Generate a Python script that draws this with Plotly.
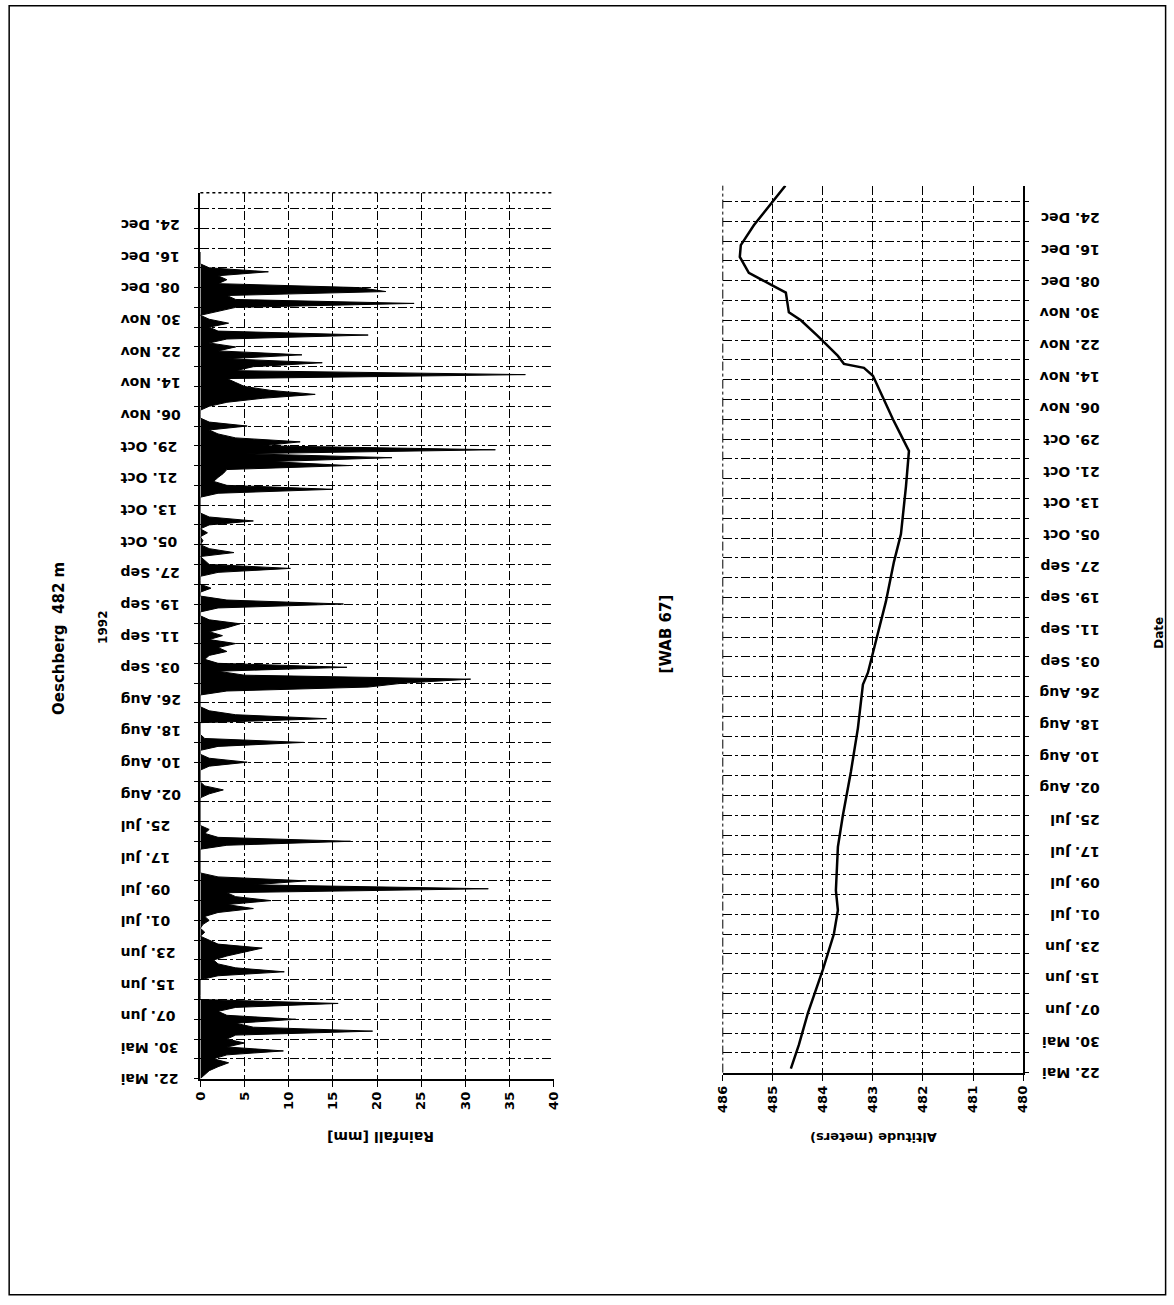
import pandas as pd
import plotly.graph_objects as go

# ---------------- data ----------------
rain_start = "1992-05-22"
rainfall_mm = [
    0, 0.5, 1, 2, 3.2, 1.5, 3, 9.4, 3, 5,
    3, 4, 19.5, 6, 4, 10.8, 3, 2, 4, 15.6,
    0, 0, 0, 0, 0, 0, 2, 9.5, 4, 2,
    1.5, 3, 5, 7, 2, 1, 0, 0.5, 0, 0.3,
    1, 0.5, 2, 6, 3, 8, 4, 3, 32.6, 6,
    12, 2, 0, 0, 0, 0, 0, 0, 0, 3,
    17, 2, 0.5, 1, 0, 0, 0, 0, 0, 0,
    0, 0, 1, 2.6, 0.5, 0, 0, 0, 0, 1,
    5.3, 1, 0, 0, 2, 11.7, 0.5, 0, 0, 0,
    0, 14.3, 4, 1, 0, 0, 0, 0, 3, 19,
    23, 30.6, 5, 2, 16.6, 2, 0.5, 1, 3, 2,
    4, 1, 2.5, 1, 3, 4.5, 1, 0, 0, 2,
    16.2, 3, 0, 0, 1.2, 0, 0, 0, 2, 10.2,
    1, 0.5, 0, 3.8, 1, 0, 0.3, 0, 0.8, 0,
    1, 6, 1, 0, 0, 0, 0, 0, 2, 15,
    3, 1.5, 2, 2.6, 3, 16.8, 8, 21.7, 5, 33.4,
    7, 11.3, 4, 2, 1, 5.3, 1, 0, 0, 0,
    1, 3, 7, 13, 8, 5, 4, 3, 36.8, 4,
    6, 13.8, 3, 11.5, 2, 4, 1, 3, 19, 2,
    1, 3.2, 1, 0, 2, 4, 24.2, 4, 3, 21,
    18, 2, 3, 2, 7.7, 1, 0, 0, 0, 0,
]

level_dates = [
    "1992-05-23", "1992-05-29", "1992-06-06", "1992-06-17", "1992-06-26",
    "1992-07-02", "1992-07-07", "1992-07-18", "1992-07-26", "1992-08-06",
    "1992-08-17", "1992-08-28", "1992-08-31", "1992-09-06", "1992-09-18",
    "1992-09-28", "1992-10-05", "1992-10-17", "1992-10-26", "1992-10-30",
    "1992-11-03", "1992-11-14", "1992-11-16", "1992-11-17", "1992-11-19",
    "1992-11-24", "1992-11-28", "1992-11-30", "1992-12-05", "1992-12-07",
    "1992-12-10", "1992-12-14", "1992-12-17", "1992-12-22", "1992-12-29",
    "1993-01-01",
]
level_m = [
    484.64, 484.48, 484.30, 484.00, 483.78,
    483.70, 483.74, 483.70, 483.60, 483.44,
    483.30, 483.20, 483.10, 482.98, 482.74,
    482.58, 482.44, 482.34, 482.28, 482.44,
    482.60, 483.00, 483.18, 483.58, 483.70,
    484.10, 484.44, 484.68, 484.74, 485.04,
    485.48, 485.66, 485.64, 485.38, 484.94,
    484.75,
]

date_tick_vals = [
    "1992-05-22", "1992-05-30", "1992-06-07", "1992-06-15", "1992-06-23",
    "1992-07-01", "1992-07-09", "1992-07-17", "1992-07-25", "1992-08-02",
    "1992-08-10", "1992-08-18", "1992-08-26", "1992-09-03", "1992-09-11",
    "1992-09-19", "1992-09-27", "1992-10-05", "1992-10-13", "1992-10-21",
    "1992-10-29", "1992-11-06", "1992-11-14", "1992-11-22", "1992-11-30",
    "1992-12-08", "1992-12-16", "1992-12-24",
]
date_tick_text = [
    "22. Mai", "30. Mai", "07. Jun", "15. Jun", "23. Jun",
    "01. Jul", "09. Jul", "17. Jul", "25. Jul", "02. Aug",
    "10. Aug", "18. Aug", "26. Aug", "03. Sep", "11. Sep",
    "19. Sep", "27. Sep", "05. Oct", "13. Oct", "21. Oct",
    "29. Oct", "06. Nov", "14. Nov", "22. Nov", "30. Nov",
    "08. Dec", "16. Dec", "24. Dec",
]
rain_ticks = [0, 5, 10, 15, 20, 25, 30, 35, 40]
alt_ticks = [486, 485, 484, 483, 482, 481, 480]

# ---------------- figure ----------------
W, H = 1174, 1305
FONT = "DejaVu Sans, Liberation Sans, Arial, sans-serif"
rain_dates = pd.date_range(rain_start, periods=len(rainfall_mm), freq="D")

fig = go.Figure()
fig.add_trace(go.Scatter(
    x=rainfall_mm, y=rain_dates, mode="lines", fill="tozerox",
    line=dict(color="black", width=1), fillcolor="black",
    xaxis="x", yaxis="y", showlegend=False))
fig.add_trace(go.Scatter(
    x=level_m, y=level_dates, mode="lines",
    line=dict(color="black", width=2.5),
    xaxis="x2", yaxis="y2", showlegend=False, cliponaxis=False))

# the photographed page shows the figure slightly scaled and offset
SX, OX = 0.9864, 7.8
SY, OY = 0.9932, -0.7


def px_x(p):
    return ((p - OX) / SX) / W


def px_y(p):
    return 1 - ((p - OY) / SY) / H


DAY = 86400000
grid_common = dict(gridcolor="black", gridwidth=1, griddash="dashdot")
xtickfont = dict(family=FONT, size=13, color="black", weight="bold")
ytickfont = dict(family=FONT, size=14, color="black", weight="bold")

fig.update_layout(
    width=W, height=H,
    margin=dict(l=0, r=0, t=0, b=0),
    paper_bgcolor="white", plot_bgcolor="white",
    font=dict(family=FONT, color="black"),
    xaxis=dict(
        domain=[px_x(200), px_x(553)], anchor="y",
        range=[0, 40], tickvals=rain_ticks, tickangle=-90,
        showgrid=True, **grid_common, zeroline=False,
        showline=True, linecolor="black", linewidth=2,
        ticks="outside", ticklen=6, tickcolor="black", tickfont=xtickfont,
    ),
    yaxis=dict(
        domain=[px_y(1078), px_y(192)], anchor="x", type="date",
        range=["1992-05-22", "1993-01-01"],
        tickmode="array", tickvals=date_tick_vals, ticktext=date_tick_text,
        tickangle=180, showgrid=False, zeroline=False,
        showline=True, linecolor="black", linewidth=2,
        ticks="", tickfont=ytickfont, ticklabelstandoff=75, ticklabelshift=5,
        minor=dict(tick0="1992-05-22", dtick=5 * DAY, showgrid=True,
                   ticks="outside", ticklen=4, tickcolor="black", **grid_common),
    ),
    xaxis2=dict(
        domain=[px_x(722), px_x(1022)], anchor="y2",
        range=[486, 480], tickvals=alt_ticks, tickangle=-90,
        showgrid=True, **grid_common, zeroline=False,
        showline=True, linecolor="black", linewidth=2,
        ticks="outside", ticklen=6, tickcolor="black", tickfont=xtickfont,
    ),
    yaxis2=dict(
        domain=[px_y(1072), px_y(185)], anchor="x2", type="date", side="right",
        range=["1992-05-22", "1993-01-01"],
        tickmode="array", tickvals=date_tick_vals, ticktext=date_tick_text,
        tickangle=180, showgrid=False, zeroline=False,
        showline=True, linecolor="black", linewidth=2,
        ticks="", tickfont=ytickfont, ticklabelstandoff=72, ticklabelshift=5,
        minor=dict(tick0="1992-05-22", dtick=5 * DAY, showgrid=True,
                   ticks="outside", ticklen=4, tickcolor="black", **grid_common),
    ),
)

# dotted top border of rainfall panel, dashed left border of level panel, page frame
fig.add_shape(type="line", xref="x domain", yref="y domain", x0=0, x1=1, y0=1, y1=1,
              line=dict(color="black", width=1.5, dash="dot"))
fig.add_shape(type="line", xref="x2 domain", yref="y2 domain", x0=0, x1=0, y0=0, y1=1,
              line=dict(color="black", width=1, dash="dashdot"))
fig.add_shape(type="rect", xref="paper", yref="paper",
              x0=max(px_x(8), 0.001), x1=min(px_x(1168), 0.9988),
              y0=max(px_y(1300), 0.001), y1=min(px_y(5), 0.999),
              line=dict(color="black", width=1.5))


def ann(text, x, y, size, angle):
    fig.add_annotation(text=text, xref="paper", yref="paper", x=px_x(x), y=px_y(y),
                       xanchor="center", yanchor="middle",
                       showarrow=False, textangle=angle,
                       font=dict(family=FONT, size=size, color="black", weight="bold"))


ann("Oeschberg  482 m", 58, 638, 15, -90)
ann("1992", 102, 627, 12, -90)
ann("[WAB 67]", 665, 633, 15, -90)
ann("Date", 1157, 632, 12, -90)
ann("Rainfall [mm]", 380, 1137, 14, 180)
ann("Altitude (meters)", 872, 1137, 13, 180)

fig.write_html(
    "out.html",
    config={"displayModeBar": False},
    post_script="document.body.style.margin='0px';"
                "document.body.style.overflow='hidden';"
                "document.documentElement.style.overflow='hidden';",
)
